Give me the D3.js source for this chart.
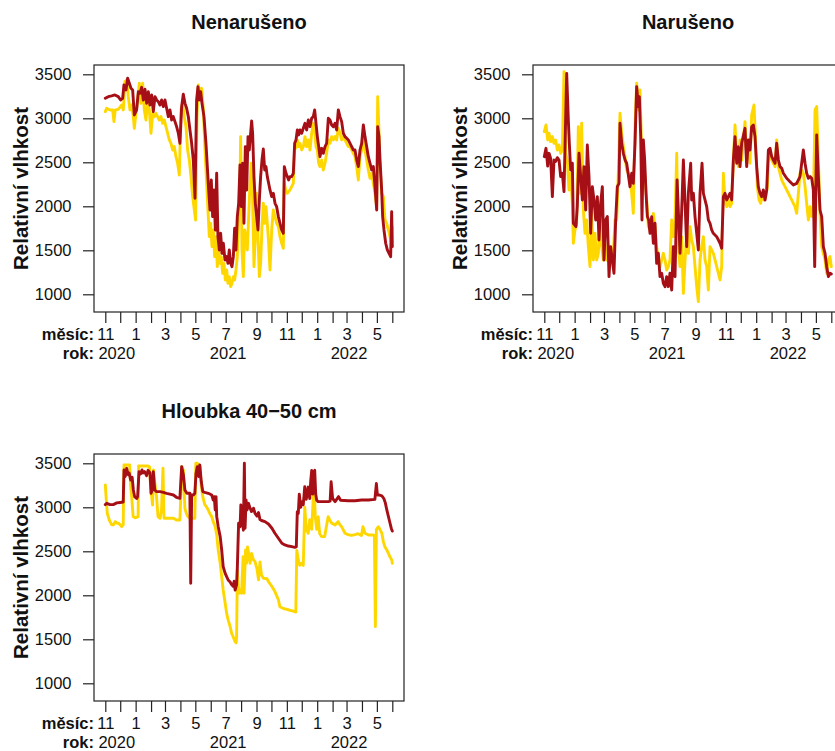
<!DOCTYPE html>
<html>
<head>
<meta charset="utf-8">
<script src="https://cdn.jsdelivr.net/npm/d3@7"></script>
<style>
  html, body { margin: 0; padding: 0; background: #fff; }
  svg { display: block; font-family: "Liberation Sans", Arial, Helvetica, sans-serif; }
</style>
</head>
<body>
<svg id="chart" width="835" height="751"></svg>
<script>
// ---------------- DATA (day offset from 1 Nov 2020, value) ----------------
const titles = ["Nenarušeno", "Narušeno", "Hloubka 40\u221250 cm"];
const yTicks = [1000, 1500, 2000, 2500, 3000, 3500];
const yAxisTitle = "Relativní vlhkost";
const monthLabel = "měsíc:";
const yearLabel = "rok:";
const years = [["2020", 23], ["2021", 247], ["2022", 490]];

const undisturbedYellow = [[0,3076],[2.7,3114],[9.4,3095],[14.7,3095],[17.4,2962],[20.1,3095],[26.1,3102],[32.8,3151],[36.2,3095],[39.5,3417],[42.9,3436],[46.2,3246],[49.6,3095],[52.9,3151],[56.3,3019],[58.3,2886],[61.7,3057],[65,3208],[68.4,3398],[71.7,3170],[75.1,3398],[78.4,3095],[81.8,2981],[85.1,3208],[88.5,3095],[91.8,2830],[95.2,3057],[98.5,3019],[101.9,3057],[105.2,3019],[108.6,2981],[111.9,3019],[115.3,2943],[118.6,2981],[122,2905],[125.3,2830],[128.7,2754],[132,2716],[135.4,2640],[138.7,2678],[142.1,2564],[145.4,2489],[148.8,2356],[152.1,3095],[155.5,3170],[158.8,3019],[162.2,2905],[165.5,2640],[168.9,2526],[172.3,2337],[175.6,2110],[179,1958],[181.6,1845],[184.3,3019],[187,3379],[190.3,3284],[193.7,3341],[197.1,3095],[200.4,2640],[203.8,2261],[206.4,1958],[209.1,1655],[211.8,1807],[214.5,1542],[217.2,1731],[219.8,1428],[222.5,1655],[225.2,1314],[227.9,1504],[230.6,1352],[233.2,1428],[235.9,1239],[238.6,1352],[241.3,1163],[244,1276],[246.6,1125],[249.3,1201],[252,1087],[254.7,1125],[257.4,1201],[260,1163],[262.7,1276],[265.4,1428],[268.1,1883],[270.8,2261],[272.1,2792],[274.8,1504],[277.5,1201],[280.2,1731],[282.8,1655],[285.5,1504],[288.2,1883],[290.9,2261],[293.6,2489],[296.2,2072],[298.9,1314],[301.6,1655],[304.3,2148],[307,1655],[309.7,1201],[312.3,1352],[315,1769],[317.7,2034],[320.4,1807],[323.1,1996],[325.7,1807],[328.4,1580],[331.1,1276],[334.5,1731],[337.8,1958],[341.2,1883],[344.5,1807],[347.9,1769],[351.2,1655],[354.6,1580],[357.9,1523],[359.9,2261],[362.6,2186],[366,2148],[371.3,2186],[378,2261],[380.7,2640],[383.4,2678],[386.1,2754],[388.7,2678],[391.4,2716],[394.8,2640],[398.1,2678],[401.5,2792],[404.8,2678],[408.2,2754],[411.5,2640],[414.9,2830],[418.2,2943],[420.9,2867],[423.6,2678],[426.3,2640],[429,2489],[431.6,2451],[435,2526],[438.3,2413],[441.7,2489],[445,2602],[448.4,2754],[451.7,2716],[455.1,2792],[458.4,2754],[461.8,2792],[465.1,2754],[468.5,2886],[471.8,2830],[475.2,2754],[478.5,2792],[481.9,2754],[485.3,2716],[488.6,2678],[492,2678],[495.3,2640],[498.7,2602],[502,2564],[505.4,2451],[508.7,2299],[512.1,2564],[515.4,2640],[518.8,2792],[522.1,2640],[525.5,2526],[528.8,2413],[532.2,2318],[535.5,2375],[538.9,2261],[542.2,2148],[545.6,1996],[547.6,3246],[550.3,2830],[552.3,2451],[555.6,2148],[559,2110],[562.3,1845],[565.7,1807],[569,1731],[572.4,1655],[575.7,1580],[577,1769]];

const undisturbedRed = [[0,3227],[6,3246],[12.7,3254],[19.4,3265],[26.1,3246],[30.8,3208],[34.9,3227],[37.5,3379],[41.6,3322],[44.9,3455],[48.3,3398],[51.6,3341],[55,3322],[58.3,3038],[63,3095],[66.4,3303],[69.7,3284],[73.1,3352],[76.4,3208],[79.8,3330],[83.1,3170],[86.5,3303],[89.8,3151],[93.2,3265],[96.5,3076],[99.9,3246],[103.2,3208],[106.6,3189],[109.9,3151],[113.3,3208],[116.6,3133],[120,3208],[123.3,3114],[126.7,3019],[130,3095],[133.4,2981],[136.7,3019],[140.1,2962],[143.4,2905],[146.8,2830],[150.1,2716],[153.5,3133],[156.8,3273],[160.2,3170],[163.5,3114],[166.9,3019],[170.2,2867],[173.6,2716],[176.9,2526],[180.3,2091],[183.6,3208],[186.3,3360],[189,3208],[191.7,3303],[194.4,3170],[198.4,3019],[202.4,2716],[205.1,2451],[207.8,2186],[210.5,1958],[213.1,2299],[215.8,1883],[218.5,2186],[221.2,1731],[223.9,2375],[226.5,1655],[229.2,1504],[231.9,1693],[234.6,1466],[237.3,1580],[240.6,1390],[244,1428],[246.6,1352],[249.3,1504],[252,1352],[254.7,1314],[257.4,1428],[260,1750],[262.7,1504],[265.4,1883],[268.1,2034],[270.8,2470],[273.5,1996],[276.1,2489],[278.8,1807],[281.5,2678],[284.2,2186],[286.9,2792],[289.5,2640],[294.2,2970],[296.2,2830],[298.9,2337],[301.6,2034],[304.3,1883],[307,1731],[309.7,2072],[312.3,2337],[315,2526],[317.7,2651],[320.4,2413],[323.1,2451],[325.7,2337],[328.4,2261],[331.1,2186],[334.5,2110],[337.8,2148],[341.2,2034],[344.5,1996],[347.9,1883],[351.2,1807],[354.6,1731],[357.9,1693],[359.9,2451],[363.3,2375],[366,2337],[368.6,2299],[371.3,2337],[374.7,2337],[378,2375],[380.7,2716],[383.4,2754],[386.1,2867],[388.7,2811],[391.4,2867],[394.8,2830],[398.1,2886],[401.5,2943],[404.8,2867],[408.2,2981],[411.5,2905],[414.9,3000],[418.2,3019],[420.9,3095],[423.6,2943],[426.3,2792],[429,2678],[431.6,2564],[435,2659],[438.3,2602],[441.7,2678],[445,2716],[448.4,3000],[451.7,2981],[455.1,2924],[458.4,2905],[461.8,2943],[465.1,2867],[468.5,3095],[471.8,3019],[475.2,2962],[478.5,2830],[481.9,2792],[485.3,2773],[488.6,2754],[492,2716],[495.3,2678],[498.7,2640],[502,2640],[505.4,2526],[508.7,2451],[512.1,2640],[515.4,2716],[518.8,2924],[522.1,2792],[525.5,2678],[528.8,2564],[532.2,2489],[535.5,2413],[538.9,2451],[542.2,2223],[545.6,1958],[547.6,2905],[550.3,2792],[552.3,2526],[555.6,2186],[557.6,1883],[560.3,1731],[563.7,1580],[567,1504],[570.4,1466],[573.7,1428],[575.7,1939],[577,1542]];

const disturbedYellow = [[0,2848],[3.4,2924],[6.8,2754],[9.5,2830],[12.8,2735],[16.2,2792],[19.5,2716],[22.9,2754],[26.2,2640],[29.6,2697],[32.9,2602],[36.3,2640],[39.6,3530],[43,2602],[46.3,2526],[49.6,2186],[53,2375],[56.4,2034],[58.4,1580],[61.7,1731],[65,1807],[68.4,2905],[71.8,2148],[75.1,2943],[78.5,1958],[81.8,1693],[85.2,1845],[88.5,1542],[91.9,1314],[95.2,1920],[98.6,1390],[101.9,1693],[105.3,1390],[108.6,1466],[112,1845],[115.3,1542],[118.7,1390],[122,1580],[125.4,1390],[128.7,1466],[132.1,1314],[135.4,1504],[138.8,1466],[142.1,1845],[145.5,1845],[148.8,2375],[152.2,3057],[155.6,2830],[158.9,2678],[162.3,2564],[165.6,2413],[169,2375],[172.3,2299],[175.7,2148],[179,1920],[182.4,2905],[185.7,3398],[189.1,3095],[192.4,3322],[195.8,2602],[199.1,2489],[202.5,2337],[205.8,2072],[209.2,1769],[212.5,1731],[215.9,1693],[219.2,1920],[222.6,1769],[225.9,1542],[229.3,1390],[232.6,1314],[236,1390],[239.3,1466],[242.7,1390],[246,1276],[249.4,1314],[252.7,1390],[256.1,1845],[259.5,1655],[262.8,1845],[266.2,2602],[269.5,1542],[272.9,1314],[276.2,1655],[279.6,1011],[283,1390],[286.3,1693],[289.7,1466],[293,1769],[296.3,1617],[299.7,1542],[303,1314],[306.4,1087],[309.7,917],[313.1,1390],[316.4,1542],[319.8,1655],[323.1,1390],[326.5,1314],[329.8,1049],[333.2,1542],[336.5,1504],[339.8,1466],[343.2,1390],[346.6,1314],[349.9,1239],[353.3,1163],[356.6,1314],[360,2375],[363.3,2072],[366.7,1996],[370,2072],[373.4,1996],[376.7,2034],[380.1,2526],[383.4,2924],[386.8,2602],[390.1,2451],[393.5,2754],[396.8,2526],[403.5,2962],[406.9,2526],[410.2,2754],[413.6,2489],[416.9,3038],[421.6,3151],[425,2716],[428.3,2223],[431.7,2072],[435,2034],[438.4,2148],[441.7,2072],[445.1,2110],[448.5,2223],[451.2,2602],[453.8,2640],[457.2,2526],[460.5,2489],[463.9,2451],[467.2,2754],[470.6,2451],[473.9,2375],[477.3,2299],[480.6,2261],[484,2223],[487.3,2186],[490.7,2148],[494,2110],[497.4,2072],[500.7,2034],[504.1,1996],[507.4,1920],[510.8,2148],[514.1,2375],[517.5,2413],[520.8,2375],[524.2,2223],[527.5,2034],[530.9,1845],[534.2,1996],[537.6,1883],[540.9,1996],[544.3,3095],[547.6,3133],[551,2526],[554.3,1920],[557.7,1542],[561,1466],[564.4,1390],[567.7,1239],[571.1,1390],[574.4,1428],[577,1314]];

const disturbedRed = [[0,2564],[3.4,2659],[6.8,2458],[9.5,2602],[12.8,2545],[16.2,2110],[19.5,2526],[22.9,2510],[26.2,2553],[29.6,2526],[32.9,2337],[36.3,2375],[39.6,2167],[45,3511],[48.3,2981],[50.3,2716],[53,2413],[56.4,2489],[58.4,1807],[63.7,1769],[66.3,1996],[69.8,2602],[73.1,2337],[76.5,2072],[79.8,2451],[83.2,1958],[86.5,2697],[89.9,2337],[93.2,1693],[96.6,2223],[99.9,2072],[103.3,1845],[106.6,2110],[110,1617],[113.3,2034],[116.7,2223],[120,1390],[123.4,1845],[126.7,1883],[130.1,1201],[133.4,1542],[136.8,1390],[140.1,1239],[143.5,1845],[146.8,2223],[150.2,2261],[152.2,2943],[155.6,2716],[158.9,2602],[162.3,2526],[165.6,2489],[169,2356],[172.3,2223],[175.7,2375],[179,2261],[182.4,2716],[185.7,3360],[189.1,3133],[191.1,3246],[193.8,2792],[196.4,1845],[199.1,2754],[201.8,2526],[204.5,2148],[207.2,1883],[209.8,1845],[212.5,1693],[215.9,1883],[219.2,1580],[222.6,1807],[225.9,1352],[229.3,1466],[232.6,1201],[236,1239],[239.3,1125],[242.7,1087],[246,1201],[249.4,1087],[252.7,1239],[256.1,1049],[259.4,1542],[262.8,1201],[267,2300],[272.9,1466],[276,1920],[279.6,2526],[283,2034],[286.3,1542],[289.6,2148],[294.3,2489],[296.3,2072],[299.7,2148],[303,1883],[306.4,1693],[309.7,1504],[313.1,2148],[317.1,2489],[319.8,2148],[323.1,2072],[326.5,1996],[329.8,1845],[333.2,1807],[336.5,1731],[339.8,1693],[346.6,1655],[353.3,1580],[356.6,1523],[360,2110],[363.3,2148],[366.7,2072],[370,2110],[373.4,2148],[376.7,2072],[380.1,2526],[383.4,2792],[386.8,2489],[390.1,2678],[393.5,2451],[396.8,2716],[403.5,2886],[406.9,2451],[410.2,2754],[413.6,2640],[416.9,2905],[420.3,2924],[423.6,2792],[427,2451],[430.3,2223],[433.7,2148],[437,2110],[440.4,2186],[443.8,2072],[447.1,2186],[450.5,2640],[453.8,2659],[457.2,2564],[460.5,2526],[463.9,2489],[467.2,2716],[470.6,2526],[473.9,2451],[477.3,2432],[480.6,2375],[487.3,2318],[494,2280],[500.7,2242],[507.4,2261],[514.1,2337],[520.8,2640],[524.2,2489],[527.5,2375],[530.9,2318],[534.2,2337],[537.6,2318],[540.9,2186],[543.6,1314],[547.6,2811],[551,2337],[554.3,1958],[557.7,1883],[561,1542],[564.4,1466],[567.7,1314],[571.1,1201],[574.4,1239],[577,1230]];

const depthYellow = [[0,3254],[2,3083],[4,2932],[8,2856],[13,2800],[16,2800],[20,2837],[23,2820],[26,2820],[30,2800],[33,2780],[36,2800],[37.6,3480],[43,3480],[49,3480],[51,3235],[53,3120],[56,2894],[60,2880],[66,2894],[67,3470],[75,3470],[85,3470],[89,3460],[91,3250],[95,3027],[97,3424],[100,3250],[103,3121],[106,2894],[110,2875],[113,2970],[116,3443],[118,2875],[123,2875],[130,2875],[137,2875],[143,2856],[150,2856],[154,3462],[157,3420],[160,2989],[163,2930],[166,2894],[170,2875],[180,2875],[182,3500],[185,3500],[190,3462],[193,3240],[196,3121],[200,3030],[203,3010],[207,2970],[210,2930],[214,2894],[217,2837],[221,2780],[224,2686],[227,2515],[231,2364],[234,2212],[237,2061],[241,1909],[244,1795],[247,1720],[251,1644],[254,1568],[257,1530],[261,1473],[263,1462],[264,1530],[265.5,2288],[267,2136],[269,2023],[271,2061],[274,2023],[277,2440],[279,2023],[282,2515],[284,2364],[286,2550],[289,2440],[291,2364],[294,2475],[298,2400],[301,2383],[305,2300],[308,2175],[311,2380],[314,2230],[318,2194],[325,2190],[328,2155],[335,2100],[341,2042],[348,1950],[351,1870],[358,1850],[365,1840],[371,1830],[378,1820],[383,1810],[385,2510],[388,2400],[391,2340],[395,2364],[398,2340],[401,3000],[404,2750],[408,2705],[411,2860],[415,2750],[418,3100],[420,3300],[422,2900],[425,2750],[428,2894],[431,2700],[435,2667],[441,2667],[448,2894],[451,2860],[455,2820],[462,2800],[468,2837],[472,2800],[475,2780],[482,2705],[488,2690],[495,2680],[502,2690],[508,2700],[515,2680],[518,2780],[522,2705],[529,2686],[538,2686],[541,2678],[543,1644],[545,2750],[549,2780],[552,2750],[556,2705],[559,2610],[562,2553],[566,2515],[569,2480],[572,2440],[576,2400],[577,2364]];

const depthRed = [[0,3030],[3,3045],[9.5,3030],[16,3030],[23,3050],[30,3055],[36,3060],[37.6,3424],[40,3350],[43,3443],[46,3370],[48,3390],[51,3310],[54,3340],[56.4,3197],[59,3121],[63,3100],[65,3121],[67.8,3405],[71,3380],[73.8,3424],[76,3390],[79,3405],[83,3360],[86,3420],[89.9,3390],[92,3159],[94,3190],[96.6,3405],[99.3,3197],[103,3178],[110,3178],[117,3170],[123,3159],[130,3150],[137,3140],[143,3114],[150,3102],[153.5,3462],[157,3370],[160,3197],[164,3159],[170,3159],[171.7,2136],[173.6,3140],[177,3140],[180,3159],[182.4,3386],[185,3462],[188,3350],[190,3481],[193,3290],[196,3178],[200,3170],[207,3159],[214,3140],[217,3083],[219,3121],[221,2970],[222.6,3121],[224,2894],[227,2780],[231,2667],[234,2515],[237,2326],[241,2250],[244,2212],[247,2174],[251,2150],[254,2121],[257,2102],[259,2160],[261,2060],[264,2121],[265.5,2326],[268,2818],[271,2780],[272.5,3027],[275,2894],[277.6,2740],[279.6,3500],[281,2762],[283,3083],[285,2970],[288,3045],[291,2990],[294,2951],[298,2990],[301,2930],[305,2900],[308,2940],[311,2860],[314,2850],[321,2837],[328,2810],[335,2762],[341,2705],[348,2648],[355,2591],[361,2572],[368,2560],[375,2553],[381,2545],[384,2550],[386,2950],[388,2930],[390,3150],[393,3000],[395,3060],[398,3030],[401,3235],[404,3090],[408,3230],[411,3100],[413,3300],[415,3420],[417,3150],[419,3400],[421,3420],[423,3150],[425,3080],[428,3064],[435,3064],[448,3064],[452,3070],[454,3290],[457,3100],[462,3064],[469,3121],[473,3080],[488,3075],[502,3075],[515,3083],[529,3083],[542,3090],[545,3270],[547,3140],[550,3140],[556,3130],[560,3100],[563,3050],[566,2970],[569,2900],[572,2830],[575,2760],[577,2730]];

const panelSeries = [
  [undisturbedYellow, undisturbedRed],
  [disturbedYellow, disturbedRed],
  [depthYellow, depthRed]
];

// ---------------- DRAWING ----------------
const COL_Y = "#FFD700", COL_R = "#A50F15";
const FONT_TICK = "16.5px", FONT_TITLE = "20px", FONT_YLAB = "20.5px";
const START = Date.UTC(2020, 10, 1), DAY = 864e5;
const toDate = d => new Date(START + d * DAY);
const END = toDate(577);
const months = d3.utcMonth.range(new Date(START), new Date(END.getTime() + DAY));

const svg = d3.select("#chart");
const offsets = [[0, 0], [439, 0], [0, 389]];
const box = {l: 94, r: 404, t: 65, b: 312};

offsets.forEach((off, i) => {
  const g = svg.append("g").attr("transform", `translate(${off[0]},${off[1]})`);
  const x = d3.scaleUtc().domain([new Date(START), END]).range([105.3, 392.3]);
  const y = d3.scaleLinear().domain([1000, 3500]).range([294.3, 74.3]);

  const line = d3.line().x(d => x(toDate(d[0]))).y(d => y(d[1]));
  const [ys, rs] = panelSeries[i];
  g.append("path").datum(ys).attr("d", line).attr("fill", "none")
    .attr("stroke", COL_Y).attr("stroke-width", 2.9).attr("stroke-linejoin", "round").attr("stroke-linecap", "round");
  g.append("path").datum(rs).attr("d", line).attr("fill", "none")
    .attr("stroke", COL_R).attr("stroke-width", 2.9).attr("stroke-linejoin", "round").attr("stroke-linecap", "round");

  // box
  g.append("rect").attr("x", box.l).attr("y", box.t)
    .attr("width", box.r - box.l).attr("height", box.b - box.t)
    .attr("fill", "none").attr("stroke", "#222").attr("stroke-width", 1.2);

  // y axis
  const ya = g.append("g").attr("transform", `translate(${box.l},0)`)
    .call(d3.axisLeft(y).tickValues(yTicks).tickSize(11).tickPadding(11.5).tickFormat(d3.format("d")));
  ya.select(".domain").remove();
  ya.selectAll("line").attr("stroke", "#222").attr("stroke-width", 1.2);
  ya.selectAll("text").attr("font-size", FONT_TICK).attr("fill", "#111")
    .style("font-family", '"Liberation Sans", Arial, sans-serif');

  // x axis
  const xa = g.append("g").attr("transform", `translate(0,${box.b})`)
    .call(d3.axisBottom(x).tickValues(months).tickSize(11)
      .tickFormat(d => ((d.getUTCMonth() + 1) % 2 === 1) ? String(d.getUTCMonth() + 1) : ""));
  xa.select(".domain").remove();
  xa.selectAll("line").attr("stroke", "#222").attr("stroke-width", 1.2);
  xa.selectAll("text").attr("y", 28).attr("dy", 0).attr("font-size", FONT_TICK).attr("fill", "#111")
    .style("font-family", '"Liberation Sans", Arial, sans-serif');

  // month / year row labels
  g.append("text").attr("x", box.l).attr("y", 340).attr("text-anchor", "end")
    .attr("font-size", FONT_TICK).attr("font-weight", "bold").attr("fill", "#111").text(monthLabel);
  g.append("text").attr("x", box.l).attr("y", 359).attr("text-anchor", "end")
    .attr("font-size", FONT_TICK).attr("font-weight", "bold").attr("fill", "#111").text(yearLabel);
  years.forEach(([label, day]) => {
    g.append("text").attr("x", x(toDate(day))).attr("y", 359).attr("text-anchor", "middle")
      .attr("font-size", FONT_TICK).attr("fill", "#111").text(label);
  });

  // y axis title
  g.append("text").attr("transform", `translate(28,${(box.t + box.b) / 2}) rotate(-90)`)
    .attr("text-anchor", "middle").attr("font-size", FONT_YLAB).attr("font-weight", "bold")
    .attr("fill", "#111").text(yAxisTitle);

  // panel title
  g.append("text").attr("x", (box.l + box.r) / 2).attr("y", 29.3).attr("text-anchor", "middle")
    .attr("font-size", FONT_TITLE).attr("font-weight", "bold").attr("fill", "#111").text(titles[i]);
});
</script>
</body>
</html>
